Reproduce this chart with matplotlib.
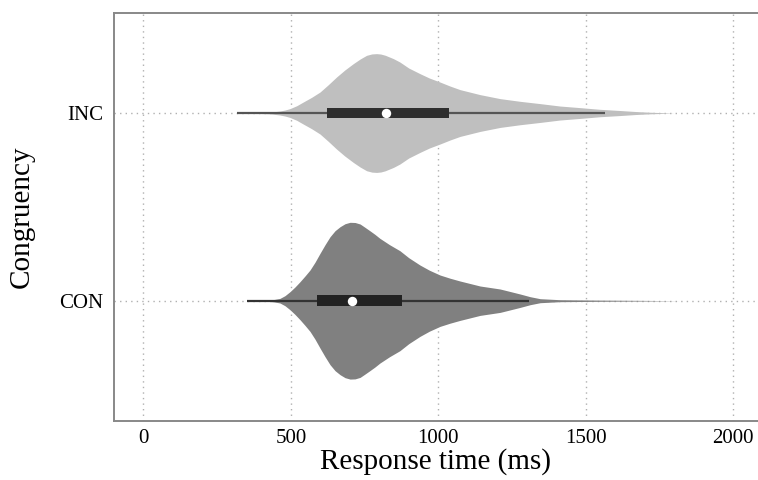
import matplotlib
matplotlib.use("Agg")
import matplotlib.pyplot as plt
import numpy as np

plt.rcParams['font.family'] = ['Liberation Serif', 'DejaVu Serif']

categories = ["CON", "INC"]

# Density profiles (relative density) along response time
inc_rt = [320, 380, 430, 463, 480, 497, 520, 542, 570, 599, 627, 655, 683, 712, 735,
          757, 775, 791, 805, 820, 848, 870, 900, 938, 970, 1006, 1040, 1074, 1142,
          1210, 1278, 1346, 1413, 1481, 1549, 1618, 1670, 1719, 1800]
inc_dens = [0, 0.3, 0.8, 2, 3, 4.4, 7.3, 11, 15.6, 21, 28.3, 36, 43, 49.4, 54,
            57.7, 59.1, 59.4, 59, 57.8, 54.4, 51, 45, 39.4, 35, 31, 27, 23.4, 18.4,
            14.4, 11.7, 9.4, 7, 5.4, 3.7, 2.5, 1.5, 0.8, 0]

con_rt = [350, 420, 445, 463, 480, 497, 514, 531, 548, 565, 582, 599, 616, 633, 650,
          667, 684, 701, 718, 735, 750, 768, 785, 802, 835, 870, 900, 938, 970,
          1006, 1040, 1074, 1142, 1210, 1278, 1312, 1346, 1413, 1549, 1700, 1820]
con_dens = [0, 0.5, 1.3, 2.3, 5, 9, 13.7, 19, 24.7, 30.7, 38.5, 47.4, 56, 64, 70,
            74, 77, 78.4, 78.2, 76.7, 73.7, 70, 66.4, 62.4, 56, 50, 43, 35.7, 30.5,
            25.7, 22.5, 19.7, 14.7, 11.7, 6.7, 4, 2, 1, 0.6, 0.3, 0]

# Box statistics: whisker low, q1, median, q3, whisker high
inc_box = [318, 624, 822, 1038, 1566]
con_box = [352, 590, 706, 878, 1308]

fills = {"CON": "#808080", "INC": "#bfbfbf"}
box_colors = {"CON": "#222222", "INC": "#2e2e2e"}
whisk_colors = {"CON": "#333333", "INC": "#555555"}

profiles = {"CON": (con_rt, con_dens, con_box), "INC": (inc_rt, inc_dens, inc_box)}

fig = plt.figure(figsize=(7.58, 4.8), dpi=100)
ax = fig.add_axes([114/758, 1 - 421/480, 1 - 114/758, (421 - 13)/480])

scale = 1 / 187.7  # relative density -> category units
for pos, cat in enumerate(categories):
    rt, dens, box = profiles[cat]
    rt = np.asarray(rt, float)
    hw = np.asarray(dens, float) * scale
    ax.fill_between(rt, pos - hw, pos + hw, color=fills[cat], lw=0, zorder=2)
    lo, q1, med, q3, hi = box
    ax.plot([lo, hi], [pos, pos], color=whisk_colors[cat], lw=1.6,
            solid_capstyle='butt', zorder=3)
    ax.barh(pos, q3 - q1, left=q1, height=0.058, color=box_colors[cat], zorder=4)
    ax.scatter([med], [pos], s=46, color="white", zorder=5, linewidths=0)

ax.set_xlim(-100, 2085)
ax.set_ylim(-0.641, 1.533)
ax.set_xticks([0, 500, 1000, 1500, 2000])
ax.set_yticks([0, 1])
ax.set_yticklabels(categories)

ax.set_axisbelow(True)
ax.grid(True, linestyle=(0, (1, 3)), color="#b0b0b0", lw=1.0)

for side in ["top", "left", "bottom"]:
    ax.spines[side].set_color("#888888")
    ax.spines[side].set_linewidth(1.4)
ax.spines["right"].set_visible(False)

ax.tick_params(axis='x', length=0, labelsize=15, pad=6, colors='black')
ax.tick_params(axis='y', length=0, labelsize=15, pad=8, colors='black')
ax.set_xlabel("Response time (ms)", fontsize=21, labelpad=0)
ax.set_ylabel("Congruency", fontsize=21, labelpad=17)

fig.savefig("out.png", dpi=100)
